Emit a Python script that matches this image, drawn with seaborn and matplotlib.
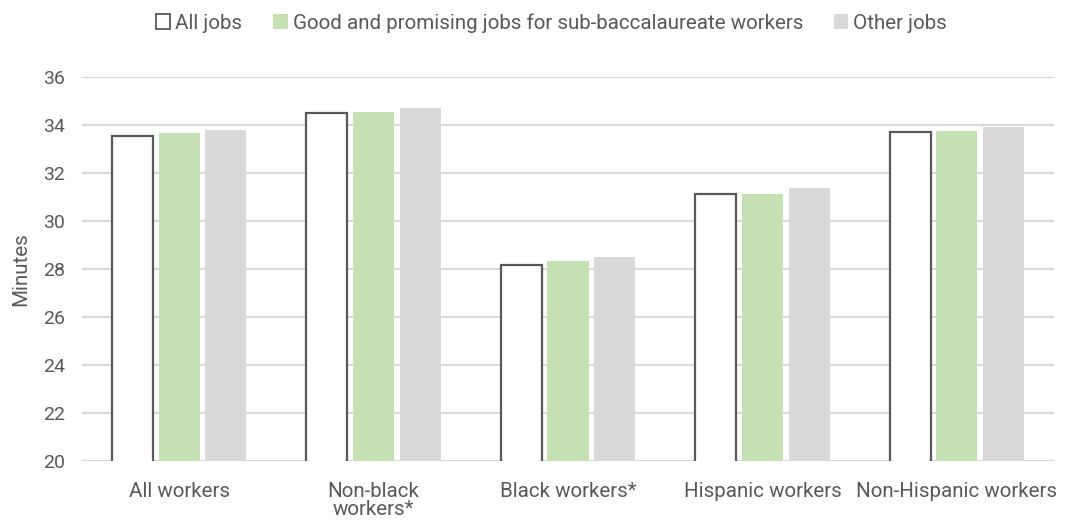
import matplotlib
matplotlib.use("Agg")
import matplotlib.pyplot as plt
import seaborn as sns
import pandas as pd
from matplotlib.patches import Patch

categories = ["All workers", "Non-black\nworkers*", "Black workers*", "Hispanic workers", "Non-Hispanic workers"]
series_names = ["All jobs", "Good and promising jobs for sub-baccalaureate workers", "Other jobs"]
all_jobs = [33.52, 34.48, 28.14, 31.10, 33.69]
good_jobs = [33.65, 34.52, 28.33, 31.13, 33.73]
other_jobs = [33.79, 34.68, 28.47, 31.37, 33.88]
y_ticks = [20, 22, 24, 26, 28, 30, 32, 34, 36]

rows = []
for name, vals in zip(series_names, [all_jobs, good_jobs, other_jobs]):
    for c, v in zip(categories, vals):
        rows.append({"cat": c, "series": name, "val": v})
df = pd.DataFrame(rows)

sns.set_theme(style="white")
plt.rcParams['font.family'] = ['Roboto', 'DejaVu Sans']
text_color = "#595959"
fs = 14.8

fig = plt.figure(figsize=(10.75, 5.21), dpi=100)
ax = fig.add_axes([82/1075, 1-461/521, (1054-82)/1075, (461-76.5)/521])

palette = {series_names[0]: "#FFFFFF", series_names[1]: "#C5E0B4", series_names[2]: "#D9D9D9"}
sns.barplot(data=df, x="cat", y="val", hue="series", hue_order=series_names,
            order=categories, palette=palette, width=0.72, gap=0.12,
            ax=ax, legend=False, errorbar=None, saturation=1, zorder=3)

for bar in ax.patches:
    fc = bar.get_facecolor()
    if fc[0] > 0.99 and fc[1] > 0.99 and fc[2] > 0.99:
        bar.set_edgecolor("#595959")
        bar.set_linewidth(1.6)
    else:
        bar.set_edgecolor("none")
        bar.set_linewidth(0)

ax.set_ylim(20, 36)
ax.set_yticks(y_ticks)
ax.set_yticklabels([str(t) for t in y_ticks], fontsize=14, color=text_color)
ax.yaxis.grid(True, color="#D9D9D9", linewidth=1.5, zorder=0)
ax.set_axisbelow(True)
for s in ax.spines.values():
    s.set_visible(False)
ax.tick_params(axis="y", length=0, pad=12)
ax.tick_params(axis="x", length=0, labelsize=fs, labelcolor=text_color, pad=15)
for lbl in ax.get_xticklabels():
    lbl.set_linespacing(0.95)
ax.set_xlabel("")
ax.set_ylabel("Minutes", fontsize=fs, color=text_color)
ax.yaxis.set_label_coords(-52/972, 0.5)

handles = [Patch(facecolor="#FFFFFF", edgecolor="#595959", linewidth=1.3),
           Patch(facecolor="#C5E0B4", edgecolor="none"),
           Patch(facecolor="#D9D9D9", edgecolor="none")]
leg = fig.legend(handles, series_names, loc="center", bbox_to_anchor=(0.513, 1-23/521),
                 ncol=3, frameon=False, fontsize=fs, handlelength=0.7, handleheight=0.7,
                 handletextpad=0.25, columnspacing=1.5)
for t in leg.get_texts():
    t.set_color(text_color)

fig.savefig("out.png", dpi=100)
